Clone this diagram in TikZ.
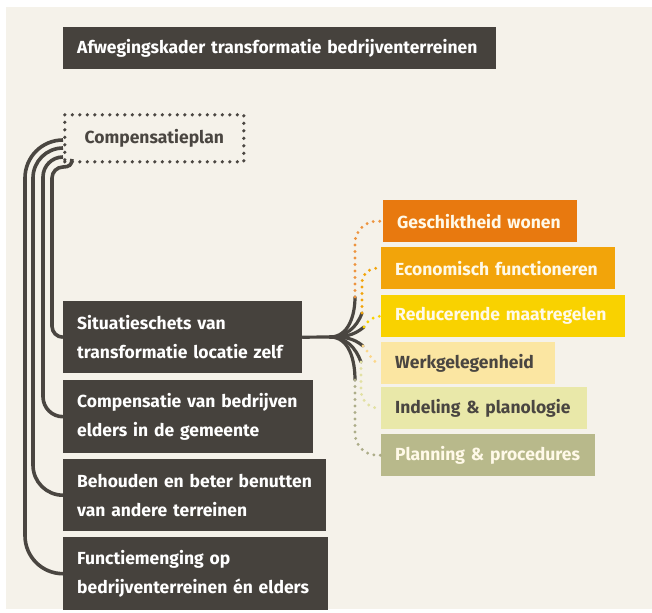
\documentclass[tikz,border=0pt]{standalone}
\usepackage{fontspec}
\setmainfont{Fira Sans}

\definecolor{paper}{HTML}{F5F2EA}
\definecolor{boxgray}{HTML}{46423D}
\definecolor{linegray}{HTML}{4A4641}
\definecolor{cream}{HTML}{FFF9E8}
\definecolor{oranje}{HTML}{E8790F}
\definecolor{amber}{HTML}{F2A40A}
\definecolor{geel}{HTML}{F9D200}
\definecolor{lichtgeel}{HTML}{FBE6A2}
\definecolor{lichtgroen}{HTML}{E9E8A9}
\definecolor{olijf}{HTML}{B8B98B}

\begin{document}
\begin{tikzpicture}[x=1pt, y=-1pt]
        \tikzstyle{darkbox}=[fill=boxgray, text=white, anchor=north west, align=left, inner xsep=14pt, inner ysep=0pt, font=\bfseries\fontsize{17.5}{29}\selectfont]
        \tikzstyle{tag}=[anchor=north west, align=left, inner xsep=14pt, inner ysep=0pt, minimum height=42pt, text=cream, font=\bfseries\fontsize{17.5}{20}\selectfont]
        \tikzstyle{branch}=[draw=linegray, line width=3.6pt]
        \tikzstyle{twig}=[draw=linegray, line width=3.2pt, line cap=round]
        \tikzstyle{dots}=[line width=3.2pt, line cap=round, dash pattern=on 0pt off 6.5pt]

        \useasboundingbox (0,0) rectangle (652,612);
        \fill [white] (0,0) rectangle (652,612);
        \fill [paper] (6,7) rectangle (652,609);

        % titel en plan
        \node [style=darkbox, text width=405pt, minimum height=42pt] (title) at (63,27) {Afwegingskader transformatie bedrijventerreinen};
        \node [draw=linegray, line width=3.6pt, line cap=round, dash pattern=on 0pt off 7.5pt, text=linegray, font=\bfseries\fontsize{17.5}{20}\selectfont, minimum width=179pt, minimum height=47pt, anchor=north west] (plan) at (63,113) {Compensatieplan};

        % donkere blokken
        \node [style=darkbox, text width=211pt, minimum height=72pt] (sit) at (63,301) {Situatieschets van\\transformatie locatie zelf};
        \node [style=darkbox, text width=222pt, minimum height=73pt] (comp) at (63,380) {Compensatie van bedrijven\\elders in de gemeente};
        \node [style=darkbox, text width=235pt, minimum height=72pt] (beh) at (63,459) {Behouden en beter benutten\\van andere terreinen};
        \node [style=darkbox, text width=237pt, minimum height=73pt] (func) at (63,537) {Functiemenging op\\bedrijventerreinen én elders};

        % gekleurde labels
        \node [style=tag, fill=oranje, text width=166pt] (gesch) at (383,200) {Geschiktheid wonen};
        \node [style=tag, fill=amber, text width=206pt] (econ) at (381,247) {Economisch functioneren};
        \node [style=tag, fill=geel, text width=216pt] (redu) at (381,295) {Reducerende maatregelen};
        \node [style=tag, fill=lichtgeel, text=linegray, text width=146pt] (werk) at (381,342) {Werkgelegenheid};
        \node [style=tag, fill=lichtgroen, text=linegray, text width=178pt] (inde) at (381,387) {Indeling \& planologie};
        \node [style=tag, fill=olijf, text width=186pt] (plann) at (381,434) {Planning \& procedures};

        % lijnen vanaf het plan
        \draw [style=branch, rounded corners=38pt] (plan.west |- 0,140) -| (func.west -| 25,0) -- (func.west);
        \draw [style=branch, rounded corners=30pt] (plan.west |- 0,148) -| (beh.west -| 33,0) -- (beh.west);
        \draw [style=branch, rounded corners=20pt] (plan.west |- 0,157) -| (comp.west -| 43,0) -- (comp.west);
        \draw [style=branch] (72,159) .. controls (72,165) and (69,167) .. (63,167) [rounded corners=11pt] -| (sit.west -| 52,0) -- (sit.west);

        % waaier
        \coordinate (t) at (330,337);
        \coordinate (f1) at (355,297);
        \coordinate (f2) at (362,313);
        \coordinate (f3) at (364,327);
        \coordinate (f4) at (363,346);
        \coordinate (f5) at (361,362);
        \coordinate (f6) at (355,380);
        \draw [style=twig] (sit.east) -- (t);
        \draw [style=twig] (t) to [out=0, in=-90] (f1);
        \draw [style=twig] (t) to [out=0, in=-110] (f2);
        \draw [style=twig] (t) to [out=0, in=-140] (f3);
        \draw [style=twig] (t) to [out=0, in=140] (f4);
        \draw [style=twig] (t) to [out=0, in=110] (f5);
        \draw [style=twig] (t) to [out=0, in=90] (f6);

        % stippellijnen
        \draw [style=dots, draw=oranje!80!white, rounded corners=22pt] (f1) |- (gesch.west);
        \draw [style=dots, draw=amber, rounded corners=15pt] (f2) |- (econ.west);
        \draw [style=dots, draw=geel] (f3) to [out=60, in=180] (redu.west);
        \draw [style=dots, draw=lichtgeel!85!orange] (f4) to [out=-45, in=180] (werk.west);
        \draw [style=dots, draw=lichtgroen!85!olijf, rounded corners=18pt] (f5) |- (inde.west);
        \draw [style=dots, draw=olijf!80!gray, rounded corners=22pt] (f6) |- (plann.west);
\end{tikzpicture}
\end{document}
